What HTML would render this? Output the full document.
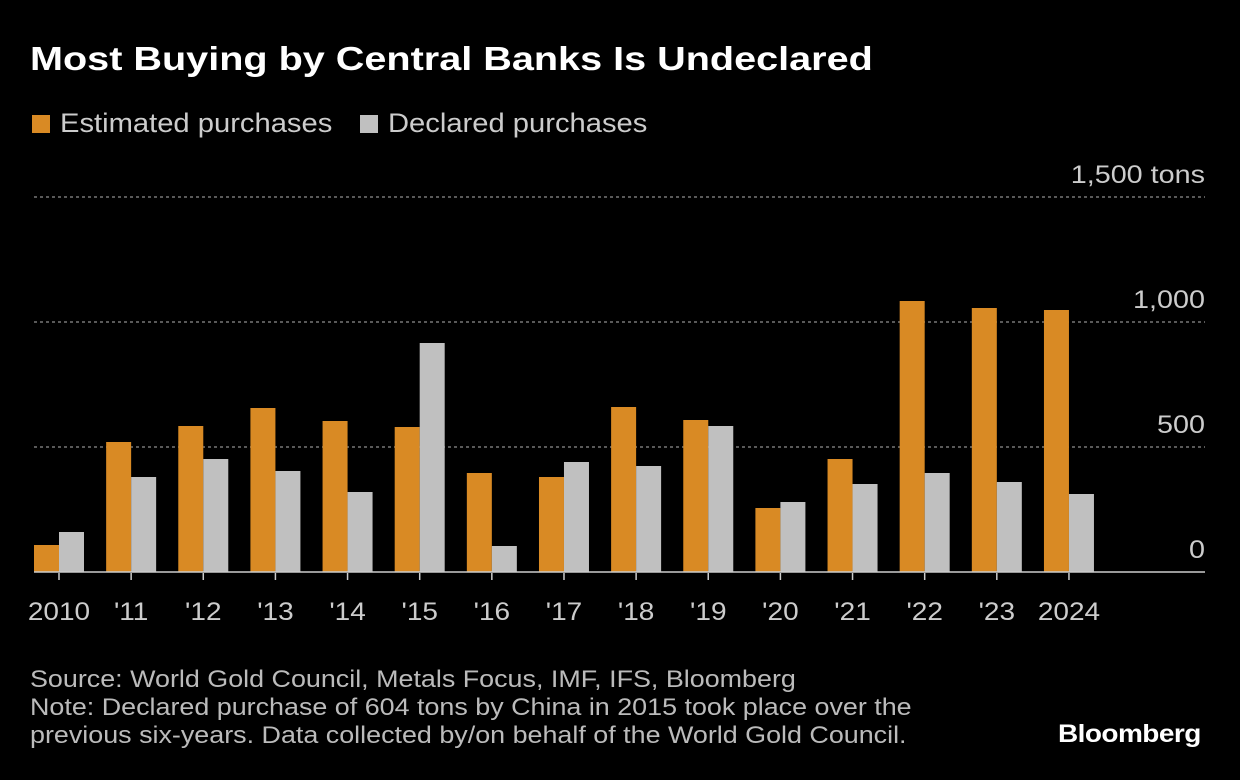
<!DOCTYPE html>
<html><head><meta charset="utf-8"><style>
body{margin:0;background:#000;width:1240px;height:780px;overflow:hidden;font-family:"Liberation Sans",sans-serif;color:#ddd}
.t{position:absolute;white-space:nowrap;transform-origin:0 0}
</style></head><body>
<div class="t" style="left:30px;top:40px;font-size:33px;font-weight:bold;color:#fff;transform:scaleX(1.2)">Most Buying by Central Banks Is Undeclared</div>
<div class="t" style="left:32px;top:108px;font-size:27px;color:#ccc"><span style="display:inline-block;width:18px;height:18px;background:#d98a24;margin-right:10px;vertical-align:-1px"></span><span style="display:inline-block;transform:scaleX(1.08);transform-origin:0 0">Estimated purchases</span></div>
<div class="t" style="left:360px;top:108px;font-size:27px;color:#ccc"><span style="display:inline-block;width:18px;height:18px;background:#c0c0c0;margin-right:10px;vertical-align:-1px"></span><span style="display:inline-block;transform:scaleX(1.08);transform-origin:0 0">Declared purchases</span></div>
<svg id="c" width="1240" height="780" style="position:absolute;left:0;top:0"></svg>
<div class="t" style="left:30px;top:666px;font-size:24px;line-height:28px;color:#bbb;transform:scaleX(1.12)">Source: World Gold Council, Metals Focus, IMF, IFS, Bloomberg<br>Note: Declared purchase of 604 tons by China in 2015 took place over the<br>previous six-years. Data collected by/on behalf of the World Gold Council.</div>
<div class="t" style="left:1058px;top:720px;font-size:25px;font-weight:bold;color:#fff;letter-spacing:-0.5px;transform:scaleX(1.12)">Bloomberg</div>
<script>
const categories=['2010',"'11","'12","'13","'14","'15","'16","'17","'18","'19","'20","'21","'22","'23",'2024'];
const estimated=[108,520,584,656,604,580,396,380,660,608,256,452,1084,1056,1048];
const declared=[160,380,452,404,320,916,104,440,424,584,280,352,396,360,312];
const yTicks=[0,500,1000,1500];
const yTickLabels=['0','500','1,000','1,500 tons'];
const svg=document.getElementById('c');const NS='http://www.w3.org/2000/svg';
const y=v=>572-v*0.25, x=i=>59+i*72.14;
function mk(t,a){const e=document.createElementNS(NS,t);for(const k in a)e.setAttribute(k,a[k]);svg.appendChild(e);return e;}
yTicks.forEach((v,i)=>{
 if(v>0){const l=mk('line',{x1:34,x2:1205,y1:y(v),y2:y(v),stroke:'#777','stroke-dasharray':'3,3','stroke-width':1.5});
 
 }
 const t=mk('text',{x:0,y:0,transform:'translate(1205,'+(y(v)-14)+') scale(1.15,1)','text-anchor':'end','font-size':25,fill:'#ccc','font-family':'Liberation Sans'});
 t.textContent=yTickLabels[i];
 
 
});
categories.forEach((c,i)=>{
 const b1=mk('rect',{x:x(i)-25,y:y(estimated[i]),width:25,height:estimated[i]*0.25,fill:'#d98a24'});
 
 
 const b2=mk('rect',{x:x(i),y:y(declared[i]),width:25,height:declared[i]*0.25,fill:'#c0c0c0'});
 
 
 const tk=mk('line',{x1:x(i),x2:x(i),y1:573,y2:580,stroke:'#ccc','stroke-width':1.5});
 
 
 const t=mk('text',{x:0,y:0,transform:'translate('+x(i)+',620) scale(1.12,1)','text-anchor':'middle','font-size':25,fill:'#ccc','font-family':'Liberation Sans'});
 t.textContent=c;
 
 
});
const ax=mk('line',{x1:34,x2:1205,y1:572,y2:572,stroke:'#ccc','stroke-width':1.5});


</script>
</body></html>
